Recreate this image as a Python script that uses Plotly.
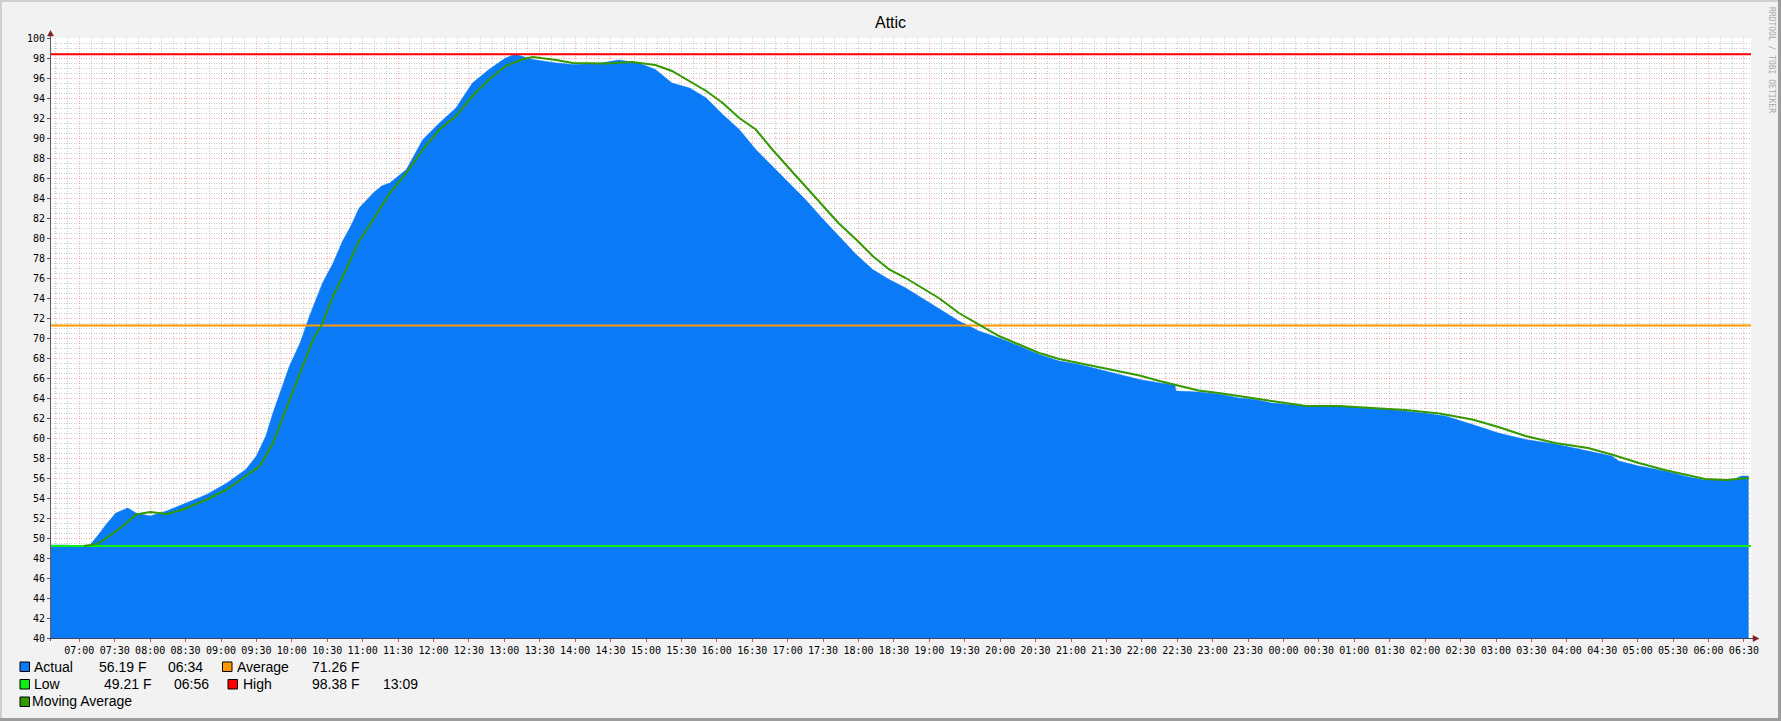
import plotly.graph_objects as go

# ---------------- data ----------------
ACTUAL_CLOCK = ["06:35","06:50","06:56","07:09","07:16","07:23","07:31","07:41","07:48","08:00",
                "08:14","08:28","08:48","09:05","09:21","09:30","09:38","09:44","09:50","09:58",
                "10:07","10:15","10:26","10:35","10:43","10:50","10:57","11:09","11:16","11:23","11:37",
                "11:51","12:05","12:19","12:33","12:47","13:01","13:09","13:24","13:44","13:58",
                "14:20","14:37","14:54","15:08","15:22","15:37","15:51","16:05","16:19","16:33",
                "16:47","17:01","17:15","17:29","17:43","17:58","18:12","18:26","18:40","18:54",
                "19:08","19:25","19:42","19:59","20:16","20:33","20:50","21:07","21:24","21:41",
                "21:58","22:15","22:28","22:29","22:48","23:08","23:22","23:36","23:50","00:19",
                "00:47","01:10","01:29","01:58","02:17","02:40","03:02","03:25","03:50","04:18",
                "04:38","04:44","05:01","05:23","05:43","05:57","06:20","06:28","06:34"]
ACTUAL_F = [49.3,49.3,49.21,49.3,50.3,51.4,52.5,53.0,52.5,52.2,
            52.7,53.35,54.35,55.5,56.85,58.2,60.2,62.5,64.5,67.2,
            69.5,72.2,75.5,77.5,79.7,81.2,83.0,84.5,85.2,85.5,86.85,
            89.85,91.5,93.0,95.5,96.85,98.0,98.38,97.85,97.5,97.35,
            97.45,97.8,97.5,96.85,95.5,95.0,94.0,92.35,90.85,88.85,
            87.2,85.5,83.85,82.0,80.2,78.35,76.85,75.85,75.0,74.0,
            73.0,71.7,70.7,70.0,69.2,68.35,67.7,67.35,66.85,66.35,
            65.85,65.5,65.3,64.7,64.6,64.35,64.0,63.85,63.5,63.2,
            63.2,63.0,62.85,62.5,62.2,61.35,60.5,59.85,59.4,58.7,
            58.2,57.7,57.2,56.7,56.1,55.8,55.8,56.2,56.19]

MA_CLOCK = ["07:04","07:15","07:23","07:37","07:48","08:00","08:14","08:28","08:48","09:05",
            "09:21","09:33","09:44","09:55","10:07","10:18","10:26","10:35","10:46","10:56",
            "11:09","11:23","11:37","11:51","12:05","12:19","12:33","12:47","13:01","13:15",
            "13:24","13:44","13:58","14:26","14:48","15:08","15:22","15:37","15:51","16:05",
            "16:19","16:33","16:47","17:01","17:15","17:29","17:43","17:58","18:12","18:26",
            "18:40","18:54","19:08","19:25","19:42","19:59","20:16","20:33","20:50","21:07",
            "21:24","21:41","21:58","22:15","22:32","22:48","23:08","23:36","23:50","00:19",
            "00:47","01:15","01:43","02:12","02:40","03:02","03:25","03:50","04:18","04:38",
            "05:01","05:23","05:43","05:57","06:15","06:34"]
MA_F = [49.2,49.4,50.0,51.2,52.35,52.6,52.4,52.85,53.85,54.85,
        56.2,57.2,59.5,62.85,66.5,69.85,71.5,74.2,76.85,79.5,
        81.85,84.5,86.5,88.85,90.85,92.2,94.2,95.85,97.2,97.85,
        98.1,97.8,97.5,97.45,97.6,97.3,96.7,95.7,94.7,93.5,
        92.0,90.85,88.85,87.0,85.2,83.35,81.5,79.85,78.2,76.85,
        76.0,75.0,74.0,72.5,71.35,70.2,69.35,68.5,67.9,67.5,
        67.1,66.7,66.25,65.7,65.2,64.75,64.45,63.9,63.7,63.2,
        63.2,63.0,62.8,62.45,61.85,61.1,60.2,59.5,59.0,58.35,
        57.5,56.8,56.25,55.9,55.8,56.0]

LOW_F = 49.21
AVERAGE_F = 71.26
HIGH_F = 98.38
LAST_F = 56.19

DAY1 = "2024-06-01"
DAY2 = "2024-06-02"
RANGE_START = DAY1 + " 06:36"
RANGE_END = DAY2 + " 06:36"

LEGEND_ROWS = [
    ("Actual", "56.19 F", "06:34", "Average", "71.26 F", ""),
    ("Low", "49.21 F", "06:56", "High", "98.38 F", "13:09"),
]


def stamp(clocks):
    """attach the calendar day to clock strings (rolls over after midnight)"""
    out, day, prev = [], DAY1, None
    for c in clocks:
        if prev is not None and c < prev:
            day = DAY2
        out.append(day + " " + c)
        prev = c
    return out


# ---------------- styling ----------------
W, H = 1781, 721
ML, MR, MT, MB = 51, 30, 38, 83
PW, PH = W - ML - MR, H - MT - MB

BLUE = "#0A7AF6"
ORANGE = "#FF9900"
LIME = "#11EE11"
RED = "#FF0000"
DKGREEN = "#339900"
BG = "#F2F2F2"


def xp(px):
    return (px - ML) / PW


def yp(py):
    return 1 - (py - MT) / PH


fig = go.Figure()

fig.add_trace(go.Scatter(x=stamp(ACTUAL_CLOCK), y=ACTUAL_F, mode="lines", fill="tozeroy",
                         line=dict(color=BLUE, width=0.5), fillcolor=BLUE, hoverinfo="skip"))
span = [RANGE_START, RANGE_END]
fig.add_trace(go.Scatter(x=span, y=[LOW_F, LOW_F], mode="lines", line=dict(color=LIME, width=2)))
fig.add_trace(go.Scatter(x=span, y=[AVERAGE_F, AVERAGE_F], mode="lines", line=dict(color=ORANGE, width=2)))
fig.add_trace(go.Scatter(x=span, y=[HIGH_F, HIGH_F], mode="lines", line=dict(color=RED, width=2)))
fig.add_trace(go.Scatter(x=stamp(MA_CLOCK), y=MA_F, mode="lines", line=dict(color=DKGREEN, width=2)))

tickfont = dict(family="DejaVu Sans Mono", size=10, color="#000000")
MAJ = "rgba(245,80,80,0.45)"
MIN = "rgba(160,160,160,0.55)"
DASH = "1px,1.5px"

fig.update_xaxes(type="date", range=[RANGE_START, RANGE_END], tick0=DAY1 + " 07:00", dtick=1800000,
                 tickformat="%H:%M", tickfont=tickfont, showgrid=True, gridcolor=MAJ, griddash=DASH,
                 gridwidth=1, ticks="outside", ticklen=3, tickcolor="#E05050", zeroline=False,
                 showline=False,
                 minor=dict(dtick=600000, tick0=DAY1 + " 07:00", showgrid=True, gridcolor=MIN,
                            griddash=DASH, gridwidth=1, ticks=""))
fig.update_yaxes(range=[40, 100], tick0=40, dtick=2, tickfont=tickfont, showgrid=True, gridcolor=MAJ,
                 griddash=DASH, gridwidth=1, ticks="outside", ticklen=3, tickcolor="#555555",
                 zeroline=False, showline=False,
                 minor=dict(dtick=0.5, tick0=40, showgrid=True, gridcolor=MIN, griddash=DASH,
                            gridwidth=1, ticks=""))

shapes = []
# frame
shapes.append(dict(type="rect", xref="paper", yref="paper", x0=xp(0), x1=xp(W), y0=yp(0), y1=yp(2),
                   fillcolor="#CFCFCF", line=dict(width=0), layer="below"))
shapes.append(dict(type="rect", xref="paper", yref="paper", x0=xp(0), x1=xp(2), y0=yp(0), y1=yp(H),
                   fillcolor="#CFCFCF", line=dict(width=0), layer="below"))
shapes.append(dict(type="rect", xref="paper", yref="paper", x0=xp(W - 3), x1=xp(W), y0=yp(0), y1=yp(H),
                   fillcolor="#9C9C9C", line=dict(width=0)))
shapes.append(dict(type="rect", xref="paper", yref="paper", x0=xp(0), x1=xp(W), y0=yp(H - 3), y1=yp(H),
                   fillcolor="#9C9C9C", line=dict(width=0)))
# axes with arrows
AX = "#606060"
shapes.append(dict(type="line", xref="paper", yref="paper", x0=xp(50.5), x1=xp(50.5), y0=yp(641), y1=yp(35),
                   line=dict(color=AX, width=1)))
shapes.append(dict(type="line", xref="paper", yref="paper", x0=xp(47), x1=xp(1754), y0=yp(638.5), y1=yp(638.5),
                   line=dict(color="#404060", width=1)))
ARW = "#802020"
shapes.append(dict(type="path", xref="paper", yref="paper",
                   path="M {} {} L {} {} L {} {} Z".format(xp(47.5), yp(36), xp(53.5), yp(36), xp(50.5), yp(30.5)),
                   fillcolor=ARW, line=dict(color=ARW, width=0.5)))
shapes.append(dict(type="path", xref="paper", yref="paper",
                   path="M {} {} L {} {} L {} {} Z".format(xp(1753), yp(635.5), xp(1753), yp(641.5), xp(1759), yp(638.5)),
                   fillcolor=ARW, line=dict(color=ARW, width=0.5)))

# legend boxes
def box(x, y, color):
    shapes.append(dict(type="rect", xref="paper", yref="paper", x0=xp(x), x1=xp(x + 9.5), y0=yp(y), y1=yp(y + 9.5),
                       fillcolor=color, line=dict(color="#000000", width=1)))


box(20, 662, BLUE)
box(222.5, 662, ORANGE)
box(20, 679.5, LIME)
box(228, 679.5, RED)
box(20, 697, DKGREEN)

annotations = []
LF = dict(family="Liberation Sans", size=14, color="#000000")


def label(x, y, text, anchor="left"):
    annotations.append(dict(xref="paper", yref="paper", x=xp(x), y=yp(y), text=text, showarrow=False,
                            xanchor=anchor, yanchor="middle", font=LF))


r1, r2 = LEGEND_ROWS
label(32, 666.5, r1[0])
label(147.5, 666.5, r1[1], "right")
label(166, 666.5, r1[2])
label(235, 666.5, r1[3])
label(360.5, 666.5, r1[4], "right")
label(32, 684, r2[0])
label(152.5, 684, r2[1], "right")
label(172, 684, r2[2])
label(240.5, 684, r2[3])
label(360.5, 684, r2[4], "right")
label(380.5, 684, r2[5])
label(29.5, 701.5, "Moving Average")

annotations.append(dict(xref="paper", yref="paper", x=xp(W / 2), y=yp(22), text="Attic", showarrow=False,
                        xanchor="center", yanchor="middle",
                        font=dict(family="Liberation Sans", size=16, color="#000000")))
annotations.append(dict(xref="paper", yref="paper", x=xp(1771), y=yp(60), text="RRDTOOL / TOBI OETIKER",
                        showarrow=False, textangle=90, xanchor="center", yanchor="middle",
                        font=dict(family="DejaVu Sans Mono", size=8, color="#A8A8A8")))

fig.update_layout(width=W, height=H, autosize=False, margin=dict(l=ML, r=MR, t=MT, b=MB, pad=0),
                  paper_bgcolor=BG, plot_bgcolor="#FFFFFF", showlegend=False,
                  shapes=shapes, annotations=annotations)

fig.write_html("out.html", include_plotlyjs=True, full_html=True,
               config={"displayModeBar": False},
               post_script="document.body.style.margin='0';document.body.style.overflow='hidden';")
